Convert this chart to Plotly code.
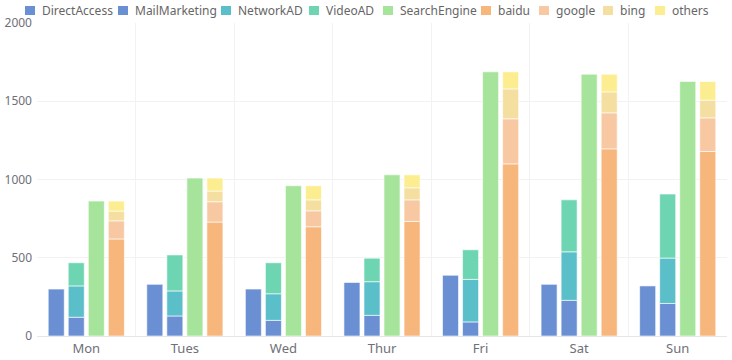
import numpy as np
import plotly.graph_objects as go

days = ["Mon", "Tues", "Wed", "Thur", "Fri", "Sat", "Sun"]

direct_access = [300, 330, 300, 342, 388, 330, 320]
mail_marketing = [120, 128, 100, 132, 90, 228, 208]
network_ad = [200, 160, 170, 215, 272, 310, 290]
video_ad = [148, 230, 198, 150, 189, 332, 409]
search_engine = [862, 1009, 960, 1030, 1688, 1673, 1626]
baidu = [620, 728, 698, 732, 1100, 1196, 1179]
google = [116, 130, 102, 138, 288, 230, 215]
bing = [62, 68, 70, 77, 191, 134, 113]
others = [64, 83, 90, 83, 109, 113, 119]

y_ticks = [0, 500, 1000, 1500, 2000]

colors = {
    "DirectAccess": "#6a90d3",
    "MailMarketing": "#6a90d3",
    "NetworkAD": "#5bbfca",
    "VideoAD": "#6dd5b1",
    "SearchEngine": "#a6e49c",
    "baidu": "#f7b67b",
    "google": "#f8c8a3",
    "bing": "#f4dfa1",
    "others": "#fcee90",
}

series = [
    ("DirectAccess", direct_access, "g1", None),
    ("MailMarketing", mail_marketing, "g2", []),
    ("NetworkAD", network_ad, "g2", [mail_marketing]),
    ("VideoAD", video_ad, "g2", [mail_marketing, network_ad]),
    ("SearchEngine", search_engine, "g3", None),
    ("baidu", baidu, "g4", []),
    ("google", google, "g4", [baidu]),
    ("bing", bing, "g4", [baidu, google]),
    ("others", others, "g4", [baidu, google, bing]),
]

W, H = 732, 360
ML, MR, MT, MB = 37, 5, 23, 24
PW, PH = W - ML - MR, H - MT - MB

fig = go.Figure()
for name, vals, grp, below in series:
    base = None
    if below is not None:
        base = np.sum(np.array(below, dtype=float), axis=0) if below else np.zeros(len(vals))
    fig.add_trace(go.Bar(
        name=name, x=days, y=vals, base=base, offsetgroup=grp,
        marker=dict(color=colors[name], line=dict(color="rgba(255,255,255,0.6)", width=1)),
    ))

# custom single-row legend (pixel positions of each legend icon)
legend_icon_x = [25, 118, 221, 309, 383, 481, 539, 603, 655]
def px_x(p):
    return (p - ML) / PW
def px_y(p):
    return (H - MB - p) / PH

shapes = []
annotations = []
for (name, _, _, _), ix in zip(series, legend_icon_x):
    shapes.append(dict(type="rect", xref="paper", yref="paper",
                       x0=px_x(ix), x1=px_x(ix + 10), y0=px_y(15), y1=px_y(6),
                       fillcolor=colors[name], line=dict(width=0)))
    annotations.append(dict(text=name, xref="paper", yref="paper",
                            x=px_x(ix + 15), y=px_y(10.5), xanchor="left", yanchor="middle",
                            showarrow=False, font=dict(size=12, color="#666")))

fig.update_layout(
    barmode="group",
    bargap=0.187,
    bargroupgap=0.2,
    width=W, height=H,
    margin=dict(l=ML, r=MR, t=MT, b=MB, autoexpand=False),
    paper_bgcolor="white", plot_bgcolor="white",
    font=dict(family="Noto Sans", size=12, color="#6e7079"),
    showlegend=False,
    shapes=shapes,
    annotations=annotations,
    xaxis=dict(showgrid=True, gridcolor="#f2f2f2", tickson="boundaries",
               showline=True, linecolor="#e6e6e6", ticks="", tickfont=dict(size=13, color="#6e7079"),
               zeroline=False, fixedrange=True),
    yaxis=dict(range=[0, 2000], tickvals=y_ticks, ticktext=[str(v) for v in y_ticks],
               showgrid=True, gridcolor="#f2f2f2", zeroline=False, showline=False,
               tickfont=dict(size=12, color="#6e7079"), ticks="", ticklabelstandoff=4),
)

fig.write_html("out.html", config={"displayModeBar": False},
               post_script="document.body.style.margin='0';")
